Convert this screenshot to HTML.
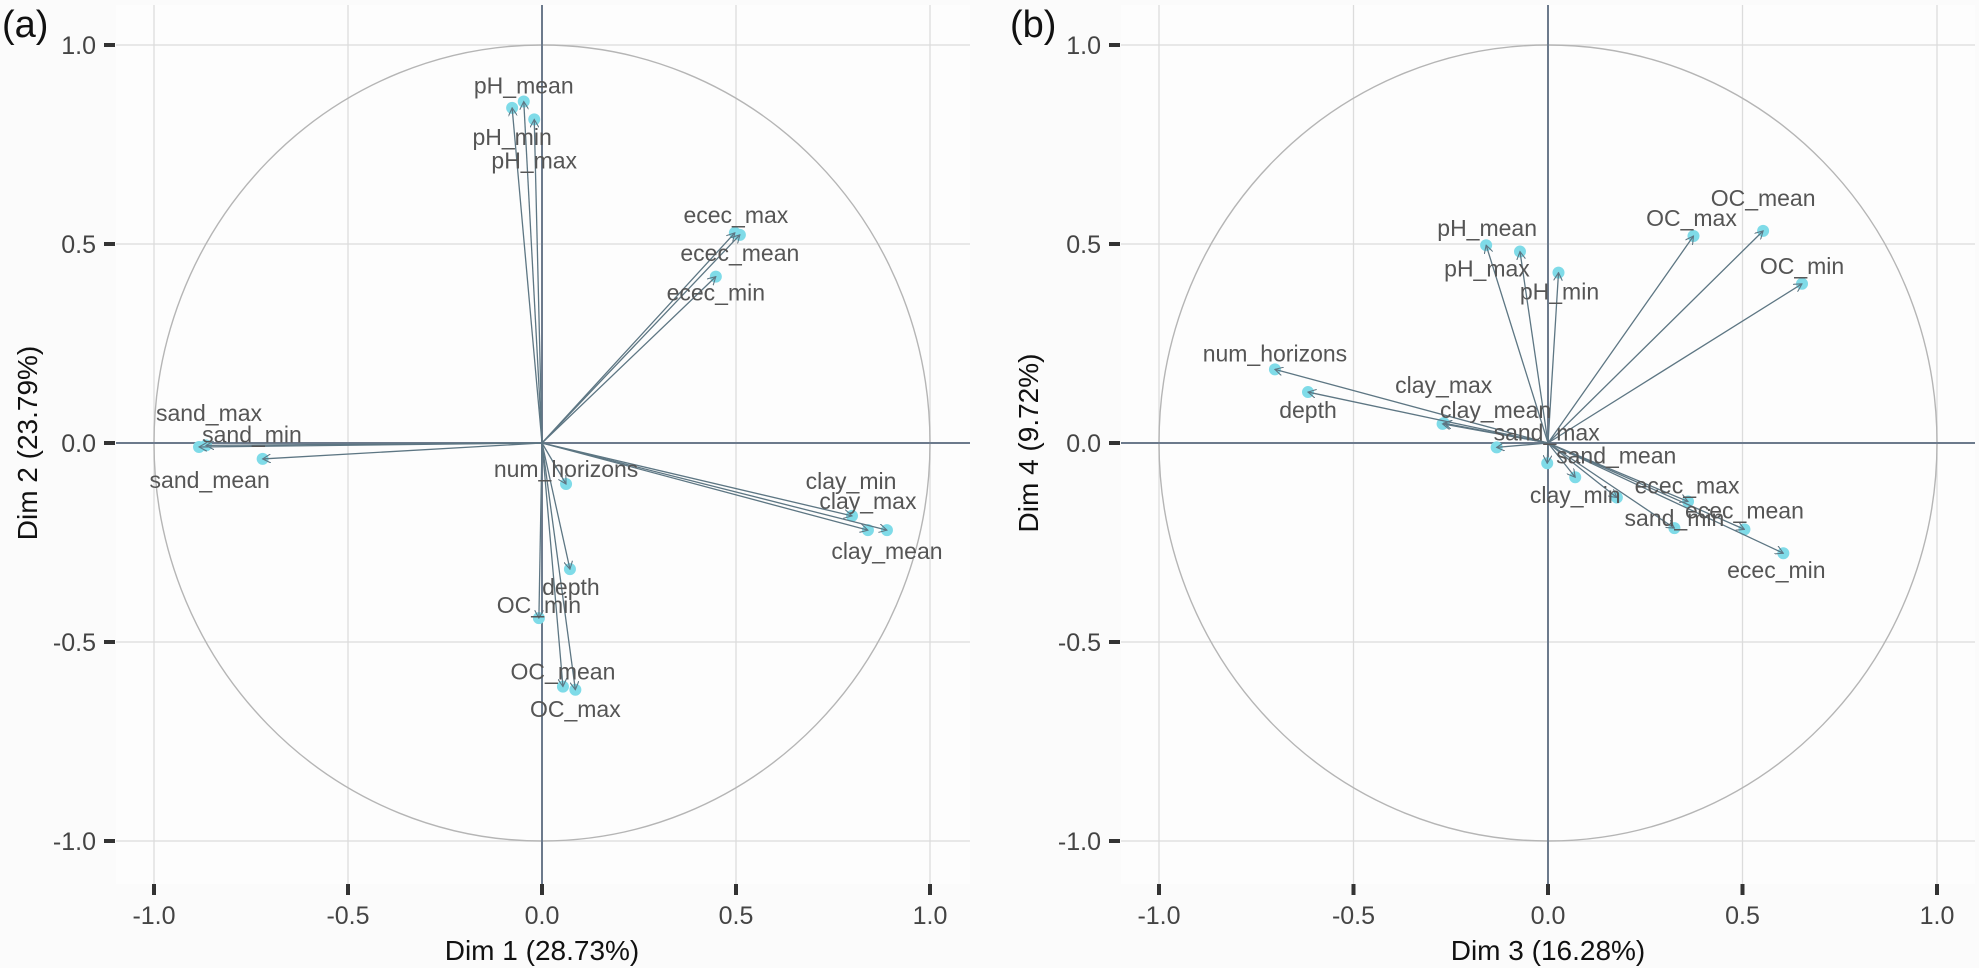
<!DOCTYPE html>
<html><head><meta charset="utf-8">
<style>
html,body{margin:0;padding:0;background:#fbfbfb;}
svg{display:block;font-family:"Liberation Sans",Arial,sans-serif;}
</style></head>
<body>
<svg id="chart" width="1979" height="968" viewBox="0 0 1979 968" xmlns="http://www.w3.org/2000/svg">
</svg>
<script>
// Panel (a): Dim1 vs Dim2
const namesA = ["pH_mean","pH_min","pH_max","ecec_max","ecec_mean","ecec_min","sand_max","sand_min","sand_mean","num_horizons","depth","OC_min","OC_mean","OC_max","clay_min","clay_max","clay_mean"];
const xA = [-0.047,-0.077,-0.020,0.510,0.497,0.448,-0.884,-0.866,-0.720,0.062,0.072,-0.008,0.054,0.086,0.799,0.840,0.889];
const yA = [0.858,0.842,0.813,0.523,0.528,0.418,-0.010,-0.006,-0.040,-0.103,-0.317,-0.440,-0.612,-0.620,-0.183,-0.219,-0.219];
// Panel (b): Dim3 vs Dim4
const namesB = ["pH_mean","pH_max","pH_min","OC_max","OC_mean","OC_min","num_horizons","depth","clay_max","clay_mean","sand_max","sand_mean","clay_min","","sand_min","ecec_max","ecec_mean","ecec_min"];
const xB = [-0.159,-0.072,0.027,0.374,0.553,0.653,-0.702,-0.617,-0.268,-0.271,-0.132,-0.002,0.070,0.177,0.325,0.360,0.505,0.605];
const yB = [0.497,0.481,0.428,0.520,0.533,0.400,0.185,0.128,0.050,0.048,-0.011,-0.051,-0.086,-0.137,-0.214,-0.147,-0.217,-0.277];
const ticks = [-1.0,-0.5,0.0,0.5,1.0];
const tickLabels = ["-1.0","-0.5","0.0","0.5","1.0"];
// label layout offsets (px), not data
const offA = [[0,-16],[0,29],[0,41],[-4,-20],[5,20],[0,16],[10,-34],[46,-11],[-53,21],[0,-15],[1,18],[0,-13],[0,-15],[0,19],[-1,-35],[0,-29],[0,21]];
const offB = [[1,-17],[-33,17],[1,19],[-2,-18],[0,-33],[0,-18],[0,-16],[0,18],[0,-38],[53,-14],[50,-15],[69,-8],[0,18],[0,0],[0,-10],[-1,-16],[0,-19],[-7,17]];

const NS="http://www.w3.org/2000/svg";
const svg=document.getElementById('chart');
function mk(tag,attrs,parent){const e=document.createElementNS(NS,tag);for(const k in attrs)e.setAttribute(k,attrs[k]);(parent||svg).appendChild(e);return e;}

const defs=mk('defs',{});
const mkr=mk('marker',{id:'arr',viewBox:'0 0 10 10',refX:'9',refY:'5',markerWidth:'9',markerHeight:'9',markerUnits:'userSpaceOnUse',orient:'auto'},defs);
mk('path',{d:'M0,0 L9,5 L0,10',fill:'none',stroke:'#5d7683','stroke-width':'1.2'},mkr);

function panel(cfg){
  const g=mk('g',{});
  
  
  const sx=v=>cfg.x0+v*cfg.kx, sy=v=>cfg.y0-v*cfg.ky;
  const bg=mk('rect',{x:cfg.left,y:5,width:cfg.right-cfg.left,height:879,fill:'#fdfdfd'},g);
  
  
  ticks.forEach((t,i)=>{
    const gv=mk('line',{x1:sx(t),x2:sx(t),y1:5,y2:884,stroke:'#dcdcdc','stroke-width':1.3},g);
    
    
    const gh=mk('line',{x1:cfg.left,x2:cfg.right,y1:sy(t),y2:sy(t),stroke:'#dcdcdc','stroke-width':1.3},g);
    
    
    const tx=mk('rect',{x:sx(t)-2,y:884,width:4,height:11,fill:'#333'},g);
    
    
    const ty=mk('rect',{x:cfg.left-12,y:sy(t)-2,width:11,height:4,fill:'#333'},g);
    
    
    const lx=mk('text',{x:sx(t),y:924,'text-anchor':'middle','font-size':25,fill:'#444'},g);
    lx.textContent=tickLabels[i];
    
    
    const ly=mk('text',{x:cfg.left-20,y:sy(t)+9,'text-anchor':'end','font-size':25,fill:'#444'},g);
    ly.textContent=tickLabels[i];
    
    
  });
  const circ=mk('ellipse',{cx:sx(0),cy:sy(0),rx:cfg.kx,ry:cfg.ky,fill:'none',stroke:'#b5b5b5','stroke-width':1.4},g);
  
  
  const ax=mk('line',{x1:cfg.left,x2:cfg.right,y1:sy(0),y2:sy(0),stroke:'#6c7a8c','stroke-width':2},g);
  
  
  const ay=mk('line',{x1:sx(0),x2:sx(0),y1:5,y2:884,stroke:'#6c7a8c','stroke-width':2},g);
  
  
  cfg.xs.forEach((v,i)=>{
    const p=mk('circle',{cx:sx(v),cy:sy(cfg.ys[i]),r:6,fill:'#7fdbe8'},g);
    
    
  });
  cfg.xs.forEach((v,i)=>{
    const l=mk('line',{x1:sx(0),y1:sy(0),x2:sx(v),y2:sy(cfg.ys[i]),stroke:'#5d7683','stroke-width':1.3,'marker-end':'url(#arr)'},g);
    
    
  });
  cfg.names.forEach((n,i)=>{
    if(!n)return;
    const o=cfg.off[i];
    const t=mk('text',{x:sx(cfg.xs[i])+o[0],y:sy(cfg.ys[i])+o[1]+8,'text-anchor':'middle','font-size':23,fill:'#555'},g);
    t.textContent=n;
    
    
  });
  const xt=mk('text',{x:sx(0),y:960,'text-anchor':'middle','font-size':28,fill:'#111'},g);
  xt.textContent=cfg.xtitle;
  
  
  const yt=mk('text',{x:cfg.ytx,y:sy(0),'text-anchor':'middle','font-size':28,fill:'#111',transform:`rotate(-90 ${cfg.ytx} ${sy(0)})`},g);
  yt.textContent=cfg.ytitle;
  
  
  const pl=mk('text',{x:cfg.plx,y:37,'font-size':38,fill:'#111'},g);
  pl.textContent=cfg.tag;
  
  
}
panel({name:'panel-a',left:116,right:970,x0:542,kx:388,y0:443,ky:398,xs:xA,ys:yA,names:namesA,off:offA,xtitle:'Dim 1 (28.73%)',ytitle:'Dim 2 (23.79%)',ytx:37,plx:2,tag:'(a)'});
panel({name:'panel-b',left:1121,right:1975,x0:1548,kx:389,y0:443,ky:398,xs:xB,ys:yB,names:namesB,off:offB,xtitle:'Dim 3 (16.28%)',ytitle:'Dim 4 (9.72%)',ytx:1038,plx:1010,tag:'(b)'});
</script>
</body></html>
